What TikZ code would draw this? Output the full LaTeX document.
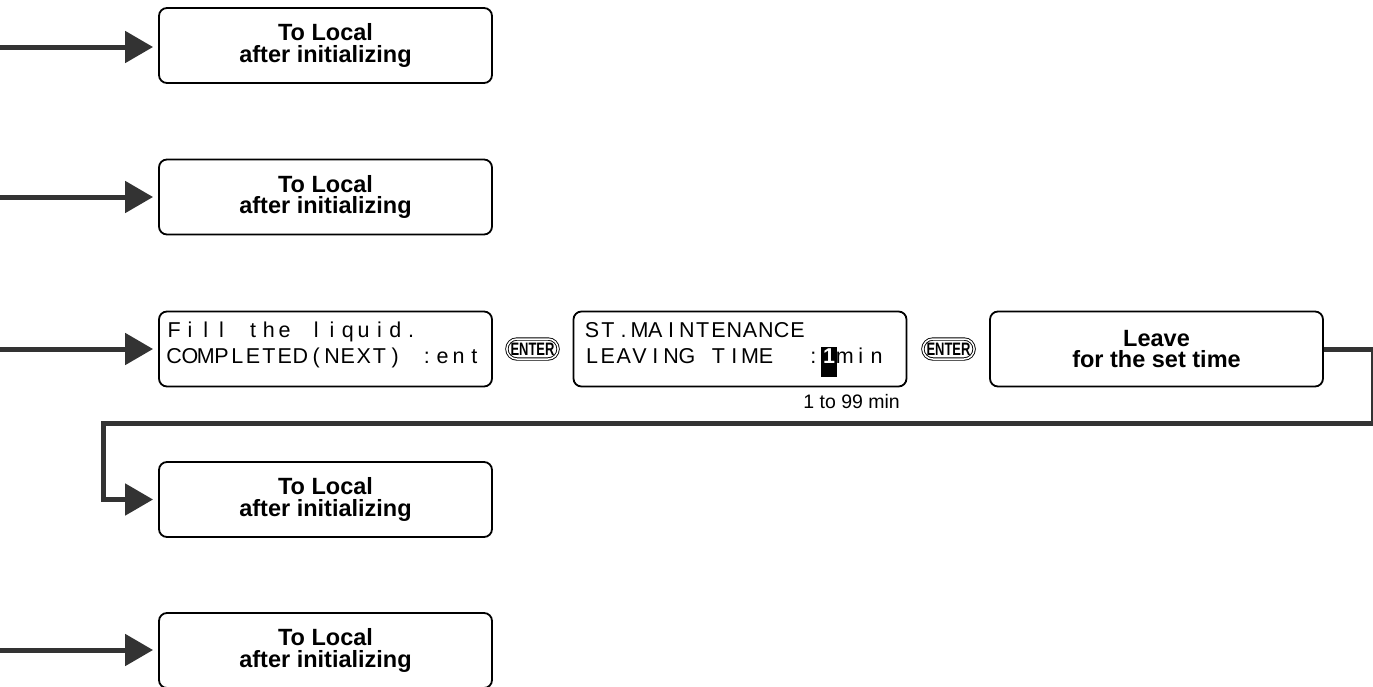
\documentclass[tikz,border=0pt]{standalone}
\usepackage{fontspec}
\setmainfont{Liberation Sans}
\newfontfamily\keyfont[FakeStretch=0.72]{Liberation Sans}
\usetikzlibrary{arrows.meta,shapes.misc}
\definecolor{flowgray}{HTML}{333333}
\newlength\lcdcell
\setlength\lcdcell{15.8pt}
\def\lcdchars#1{\ifx\relax#1\else\makebox[\lcdcell]{#1}\expandafter\lcdchars\fi}
\newcommand\lcdtext[1]{\lcdchars#1\relax}
\newcommand\lcdcur[1]{\rlap{\rule[-14pt]{\lcdcell}{30pt}}\makebox[\lcdcell]{\color{white}\bfseries#1}}

\begin{document}
\begin{tikzpicture}[x=1pt,y=-1pt,
  stepbox/.style={draw,line width=1.8pt,rounded corners=8pt,minimum width=333pt,minimum height=75pt,align=center,font=\fontsize{23.5}{21.5}\selectfont\bfseries},
  lcdbox/.style={draw,line width=1.8pt,rounded corners=8pt,minimum width=333pt,minimum height=75pt},
  lcdline/.style={anchor=base west,inner sep=0pt,font=\fontsize{21.5}{21.5}\selectfont},
  enterkey/.style={rounded rectangle,draw,line width=0.9pt,double,double distance=1.5pt,minimum height=20pt,inner xsep=1.5pt,inner ysep=1pt,font=\keyfont\bfseries\fontsize{18}{18}\selectfont},
  flow/.style={draw=flowgray,line width=5pt,-{Triangle[length=28pt,width=31pt]},shorten >=5pt}]
  \useasboundingbox (0,0) rectangle (1373,686);

  \node[stepbox] (local1) at (325.5,45.5) {To Local\\after initializing};
  \node[stepbox] (local2) at (325.5,197) {To Local\\after initializing};
  \node[lcdbox] (fill) at (325.5,349) {};
  \node[lcdbox] (maint) at (740,349) {};
  \node[stepbox] (leave) at (1156.5,349) {Leave\\for the set time};
  \node[stepbox] (local4) at (325.5,499.5) {To Local\\after initializing};
  \node[stepbox] (local5) at (325.5,650.5) {To Local\\after initializing};

  \node[lcdline] (fillA) at (166,337) {\lcdtext{Fill~the~liquid.}};
  \node[lcdline] (fillB) at (166,363) {\lcdtext{COMPLETED(NEXT)~:ent}};
  \node[lcdline] (maintA) at (584,337) {\lcdtext{ST.MAINTENANCE}};
  \node[lcdline] (maintB) at (584,363) {\lcdtext{LEAVING~TIME~~:{\lcdcur1}min}};
  \node[anchor=base east,inner sep=0pt,font=\fontsize{19.5}{19.5}\selectfont] (range) at (900,408) {1 to 99 min};

  \node[enterkey] (ent1) at (532.5,349) {ENTER};
  \node[enterkey] (ent2) at (948.5,349) {ENTER};

  \coordinate (in1) at (0,47);
  \coordinate (in2) at (0,197);
  \coordinate (in3) at (0,349);
  \coordinate (in5) at (0,650);
  \coordinate (turnr) at (1373.5,423);
  \coordinate (turnl) at (103,423);

  \draw[flow] (in1) -- (in1 -| local1.west);
  \draw[flow] (in2) -- (in2 -| local2.west);
  \draw[flow] (in3) -- (in3 -| fill.west);
  \draw[flow] (in5) -- (in5 -| local5.west);
  \draw[flow] (leave.east) -| (turnr) -- (turnl) |- (local4.west);
\end{tikzpicture}
\end{document}
